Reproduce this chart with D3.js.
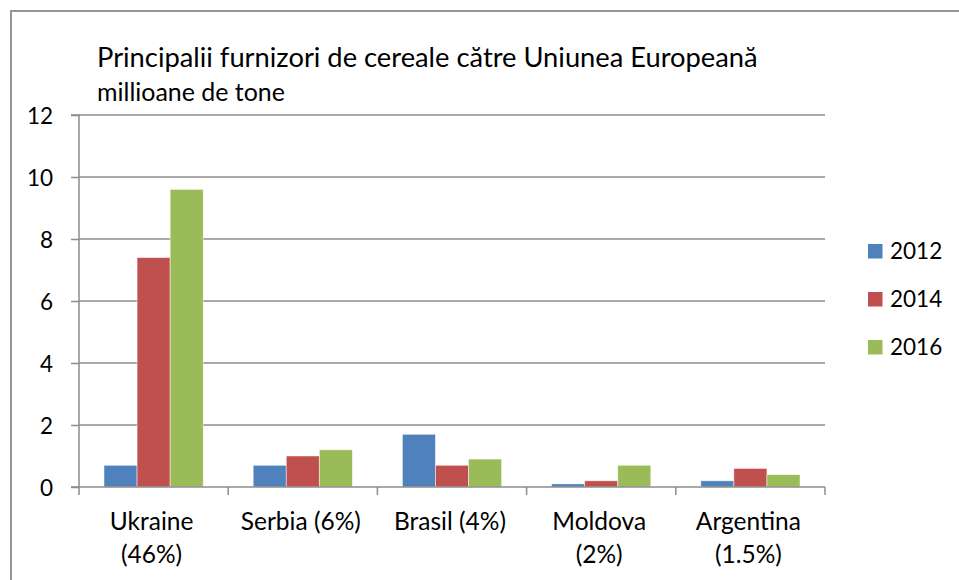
<!DOCTYPE html>
<html><head><meta charset="utf-8">
<script src="https://cdn.jsdelivr.net/npm/d3@7"></script>
<style>
html,body{margin:0;padding:0;background:#fff;}
svg{display:block;}
text{font-family:Lato,"Open Sans",sans-serif;fill:#000;}
</style></head>
<body>
<script>
const categories = ["Ukraine\n(46%)", "Serbia (6%)", "Brasil (4%)", "Moldova\n(2%)", "Argentina\n(1.5%)"];
const seriesNames = ["2012", "2014", "2016"];
const values2012 = [0.7, 0.7, 1.7, 0.1, 0.2];
const values2014 = [7.4, 1.0, 0.7, 0.2, 0.6];
const values2016 = [9.6, 1.2, 0.9, 0.7, 0.4];
const yTicks = [0, 2, 4, 6, 8, 10, 12];
const colors = ["#4F81BD", "#C0504D", "#9BBB59"];
const title = "Principalii furnizori de cereale către Uniunea Europeană";
const subtitle = "millioane de tone";

const W = 959, H = 580;
const svg = d3.select("body").append("svg").attr("width", W).attr("height", H);

// outer border
svg.append("rect").attr("x", 11).attr("y", 11).attr("width", 960).attr("height", 600)
  .attr("fill", "none").attr("stroke", "#959595").attr("stroke-width", 2);

const plot = {left: 79, right: 825, top: 115, bottom: 487};
const x0 = d3.scaleBand().domain(categories).range([plot.left, plot.right]).padding(0);
const bw = x0.bandwidth();
const x1 = d3.scaleBand().domain(seriesNames).range([bw * 0.1675, bw * 0.8325]).padding(0);
const y = d3.scaleLinear().domain([0, 12]).range([plot.bottom, plot.top]);

function fitText(sel, target) {
  const node = sel.node();
  const w = node.getComputedTextLength();
  const fs = parseFloat(sel.attr("font-size"));
  sel.attr("font-size", fs * target / w);
}

// gridlines
svg.append("g").selectAll("line").data(yTicks.filter(d => d > 0)).join("line")
  .attr("x1", plot.left).attr("x2", plot.right)
  .attr("y1", d => y(d)).attr("y2", d => y(d))
  .attr("stroke", "#8c8c8c").attr("stroke-width", 1.5);

// bars
const data = categories.map((c, i) => ({c, vals: [values2012[i], values2014[i], values2016[i]]}));
const groups = svg.append("g").selectAll("g").data(data).join("g")
  .attr("transform", d => `translate(${x0(d.c)},0)`);
groups.selectAll("rect").data(d => d.vals.map((v, j) => ({v, s: seriesNames[j], j})))
  .join("rect")
  .attr("x", d => x1(d.s)).attr("width", x1.bandwidth())
  .attr("y", d => y(d.v)).attr("height", d => y(0) - y(d.v))
  .attr("fill", d => colors[d.j])
  .attr("stroke", "rgba(255,255,255,0.6)").attr("stroke-width", 0.8);

// y axis
const yAxis = d3.axisLeft(y).tickValues(yTicks).tickSize(8).tickPadding(18).tickFormat(d3.format("d"));
const gy = svg.append("g").attr("transform", `translate(${plot.left},0)`).call(yAxis);
gy.select(".domain").attr("stroke", "#8c8c8c").attr("stroke-width", 1.5).attr("d", `M-8,${plot.top}H0V${plot.bottom}H-8`);
gy.selectAll(".tick line").attr("stroke", "#8c8c8c").attr("stroke-width", 1.5);
gy.selectAll(".tick text").attr("font-size", 22.5).attr("font-family", "Lato,'Open Sans',sans-serif").attr("fill", "#000").attr("dy", "0.36em");

// x axis
const xAxis = d3.axisBottom(x0).tickSize(0).tickFormat(() => "");
const gx = svg.append("g").attr("transform", `translate(0,${plot.bottom})`).call(xAxis);
gx.select(".domain").attr("stroke", "#8c8c8c").attr("stroke-width", 1.5).attr("d", `M${plot.left},0H${plot.right}`);
const boundaries = categories.map(c => x0(c)).concat([x0(categories[categories.length - 1]) + bw]);
gx.selectAll(".bound").data(boundaries).join("line").attr("class", "bound")
  .attr("x1", d => d).attr("x2", d => d).attr("y1", 0).attr("y2", 8)
  .attr("stroke", "#8c8c8c").attr("stroke-width", 1.5);

// category labels
categories.forEach(c => {
  const lines = c.split("\n");
  const t = svg.append("text").attr("text-anchor", "middle").attr("font-size", 24.5)
    .attr("x", x0(c) + bw / 2 - 2).attr("y", 530);
  lines.forEach((ln, k) => {
    t.append("tspan").attr("x", x0(c) + bw / 2 - 2).attr("y", 530 + k * 33).text(ln);
  });
});

// title
const tt = svg.append("text").attr("x", 97).attr("y", 67).attr("font-size", 22).text(title);
fitText(tt, 661);
const st = svg.append("text").attr("x", 97).attr("y", 101).attr("font-size", 20).text(subtitle);
fitText(st, 188);

// legend
const leg = svg.append("g").selectAll("g").data(seriesNames).join("g")
  .attr("transform", (d, i) => `translate(868,${244 + i * 48})`);
leg.append("rect").attr("width", 14.5).attr("height", 14.5).attr("fill", (d, i) => colors[i]);
leg.append("text").attr("x", 22).attr("y", 14.5).attr("font-size", 22.5).text(d => d);
</script>
</body></html>
